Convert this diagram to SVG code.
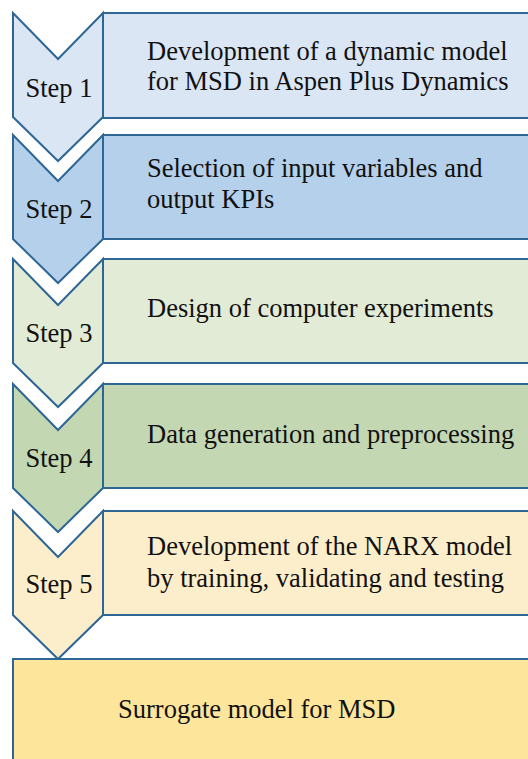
<svg xmlns="http://www.w3.org/2000/svg" width="528" height="759" viewBox="0 0 528 759">
  <defs>
    <!-- chevron outline shared by all five steps -->
    <polygon id="chev" points="13,0 58,46 103,0 103,104 58,148 13,104" stroke="#2e6695" stroke-width="2"/>
  </defs>

  <!-- Step 1 -->
  <g id="step1" font-family="Liberation Serif, Tinos, Times New Roman, serif" font-size="26.5" fill="#111">
    <rect x="103" y="13" width="440" height="105" fill="#dae6f4" stroke="#2e6695" stroke-width="2"/>
    <use href="#chev" y="13" fill="#dae6f4"/>
    <text x="59" y="97" text-anchor="middle">Step 1</text>
    <text x="147" y="60">Development of a dynamic model</text>
    <text x="147" y="90">for MSD in Aspen Plus Dynamics</text>
  </g>

  <!-- Step 2 -->
  <g id="step2" font-family="Liberation Serif, Tinos, Times New Roman, serif" font-size="26.5" fill="#111">
    <rect x="103" y="135" width="440" height="104" fill="#b4d0ea" stroke="#2e6695" stroke-width="2"/>
    <use href="#chev" y="135" fill="#b4d0ea"/>
    <text x="59" y="218" text-anchor="middle">Step 2</text>
    <text x="147" y="177">Selection of input variables and</text>
    <text x="147" y="208">output KPIs</text>
  </g>

  <!-- Step 3 -->
  <g id="step3" font-family="Liberation Serif, Tinos, Times New Roman, serif" font-size="26.5" fill="#111">
    <rect x="103" y="259" width="440" height="104" fill="#e2ebd6" stroke="#2e6695" stroke-width="2"/>
    <use href="#chev" y="259" fill="#e2ebd6"/>
    <text x="59" y="342" text-anchor="middle">Step 3</text>
    <text x="147" y="317">Design of computer experiments</text>
  </g>

  <!-- Step 4 -->
  <g id="step4" font-family="Liberation Serif, Tinos, Times New Roman, serif" font-size="26.5" fill="#111">
    <rect x="103" y="384" width="440" height="104" fill="#c4d7b3" stroke="#2e6695" stroke-width="2"/>
    <use href="#chev" y="384" fill="#c4d7b3"/>
    <text x="59" y="467" text-anchor="middle">Step 4</text>
    <text x="147" y="443">Data generation and preprocessing</text>
  </g>

  <!-- Step 5 -->
  <g id="step5" font-family="Liberation Serif, Tinos, Times New Roman, serif" font-size="26.5" fill="#111">
    <rect x="103" y="511" width="440" height="104" fill="#fdeecb" stroke="#2e6695" stroke-width="2"/>
    <use href="#chev" y="511" fill="#fdeecb"/>
    <text x="59" y="593" text-anchor="middle">Step 5</text>
    <text x="147" y="555">Development of the NARX model</text>
    <text x="147" y="587">by training, validating and testing</text>
  </g>

  <!-- Result -->
  <g id="result" font-family="Liberation Serif, Tinos, Times New Roman, serif" font-size="26.5" fill="#111">
    <rect x="13" y="659" width="530" height="120" fill="#fde59b" stroke="#2e6695" stroke-width="2"/>
    <text x="118" y="718">Surrogate model for MSD</text>
  </g>

  <g id="connectors"/>
</svg>
